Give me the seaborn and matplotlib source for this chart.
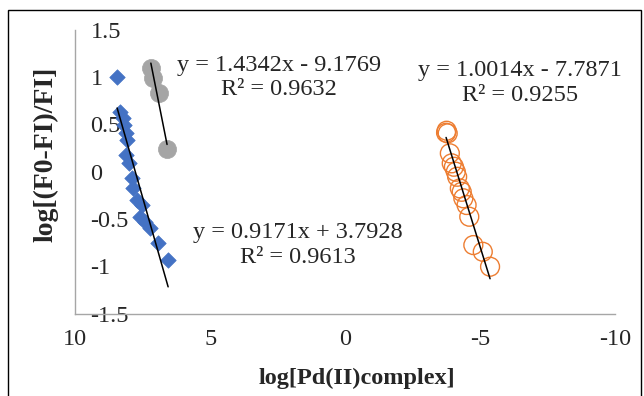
import matplotlib
matplotlib.use("Agg")
import matplotlib.pyplot as plt
import seaborn as sns
import numpy as np
import pandas as pd
from matplotlib.patches import Rectangle

# ---- data ----
blue_x = [8.45, 8.35, 8.25, 8.20, 8.12, 8.10, 8.12, 8.00, 7.91, 7.85, 7.73, 7.54, 7.61, 7.42, 7.23, 6.93, 6.56]
blue_y = [1.00, 0.635, 0.565, 0.494, 0.406, 0.335, 0.177, 0.089, -0.07, -0.176, -0.30, -0.352, -0.476, -0.529, -0.60, -0.758, -0.934]

gray_x = [7.20, 7.12, 6.90, 6.60]
gray_y = [1.097, 0.992, 0.833, 0.240]

orange_x = [-3.74, -3.76, -3.80, -3.88, -3.95, -4.03, -4.10, -4.15, -4.25, -4.32, -4.38, -4.50, -4.60, -4.75, -5.10, -5.37]
orange_y = [0.413, 0.434, 0.406, 0.195, 0.089, 0.053, 0.0, -0.053, -0.176, -0.212, -0.281, -0.352, -0.476, -0.776, -0.847, -1.005]

# trendline coefficients (slope, intercept) as printed
blue_fit = [1.0014, -7.7871]
gray_fit = [1.4342, -9.1769]
orange_fit = [0.9171, 3.7928]

labels = ["y = 1.4342x - 9.1769\nR² = 0.9632",
          "y = 1.0014x - 7.7871\nR² = 0.9255",
          "y = 0.9171x + 3.7928\nR² = 0.9613"]

x_ticks = [10, 5, 0, -5, -10]
y_ticks = [-1.5, -1, -0.5, 0, 0.5, 1, 1.5]
y_tick_labels = ["-1.5", "-1", "-0.5", "0", "0.5", "1", "1.5"]

# ---- style ----
sns.set_style("white")
plt.rcParams['font.family'] = ['Liberation Serif', 'DejaVu Serif']

fig = plt.figure(figsize=(6.44, 3.96), dpi=100)
ax = fig.add_axes([75.3/644, 82.5/396, (615-75.3)/644, (313.5-30)/396])

BLUE = "#4472C4"
GRAY = "#A5A5A5"
ORANGE = "#ED7D31"

dfb = pd.DataFrame({"x": blue_x, "y": blue_y})
dfg = pd.DataFrame({"x": gray_x, "y": gray_y})
dfo = pd.DataFrame({"x": orange_x, "y": orange_y})

sns.scatterplot(data=dfb, x="x", y="y", marker="D", s=62, color=BLUE, edgecolor=BLUE, linewidth=0.5, ax=ax, zorder=3)
sns.scatterplot(data=dfg, x="x", y="y", marker="o", s=170, color=GRAY, edgecolor=GRAY, linewidth=0.5, ax=ax, zorder=3)
sns.scatterplot(data=dfo, x="x", y="y", marker="o", s=185, facecolors="none", edgecolor=ORANGE, linewidth=1.0, ax=ax, zorder=3)

for xs, fit in [(blue_x, blue_fit), (gray_x, gray_fit), (orange_x, orange_fit)]:
    xr = np.array([min(xs), max(xs)])
    sns.lineplot(x=xr, y=fit[0]*xr + fit[1], color="black", linewidth=1.1, ax=ax, zorder=4)

ax.set_xlim(10, -10)
ax.set_ylim(-1.5, 1.5)
ax.set_xticks(x_ticks)
ax.set_xticklabels([str(t) for t in x_ticks])
ax.set_yticks(y_ticks)
ax.set_yticklabels(y_tick_labels)

for s in ["top", "right"]:
    ax.spines[s].set_visible(False)
for s in ["left", "bottom"]:
    ax.spines[s].set_color("#A6A6A6")
    ax.spines[s].set_linewidth(1.0)

ax.tick_params(axis="x", direction="out", length=5, width=1, color="#A6A6A6", labelsize=17.5, pad=6)
ax.tick_params(axis="y", direction="in", length=5, width=1, color="#A6A6A6", labelsize=17.5, pad=-11)
for lab in ax.get_yticklabels():
    lab.set_horizontalalignment("left")

ax.set_xlabel("log[Pd(II)complex]", fontsize=17.5, fontweight="bold")
ax.xaxis.set_label_coords(0.521, -0.19)
ax.set_ylabel("log[(F0-FI)/FI]", fontsize=20, fontweight="bold")
ax.yaxis.set_label_coords(-0.031, 0.56)

kw = dict(ha="center", va="center", fontsize=17.5, multialignment="center", linespacing=1.2)
ax.text(2.46, 0.997, labels[0], **kw)
ax.text(-6.49, 0.939, labels[1], **kw)
ax.text(1.75, -0.776, labels[2], **kw)

ax.patch.set_alpha(0)
fig.patches.append(Rectangle((7.5/644, -0.1), (641-7.5)/644, 1.1 - 9.5/396, transform=fig.transFigure,
                             fill=False, edgecolor="black", linewidth=1.0))

fig.savefig("out.png", dpi=100)
